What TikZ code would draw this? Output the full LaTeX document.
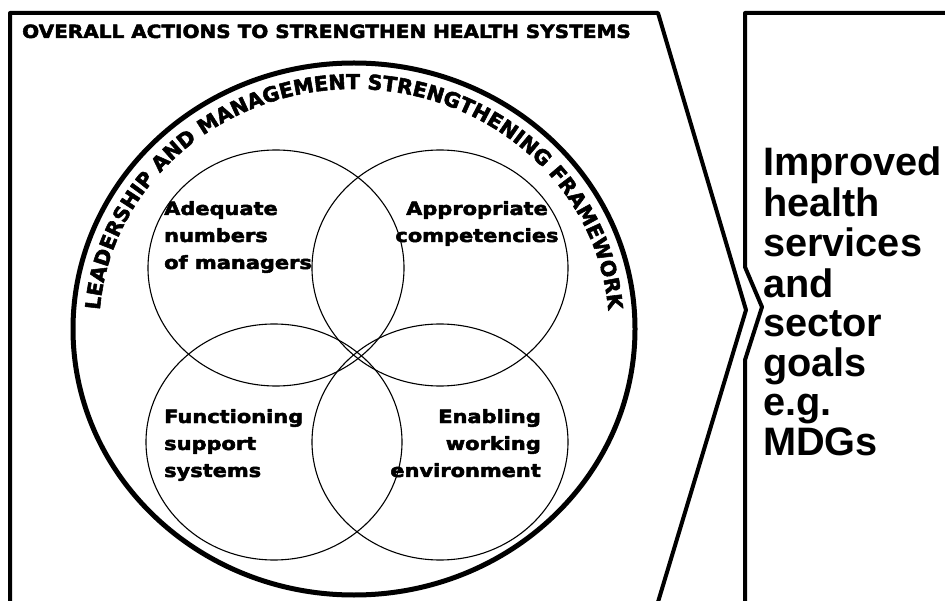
\documentclass[tikz,border=0pt]{standalone}
\usepackage{fontspec}
\usepackage{graphicx}
\usetikzlibrary{decorations.text}
\newfontfamily\heavyfont{DejaVu Sans}[BoldFeatures={FakeBold=2.6}]
\newfontfamily\goalfamily{Liberation Sans}
\newcommand{\titlefont}{\heavyfont\bfseries\fontsize{18.2}{22}\selectfont}
\newcommand{\vennfont}{\heavyfont\bfseries\fontsize{18.2}{27}\selectfont}
\newcommand{\arcfont}{\heavyfont\bfseries\fontsize{20.5}{24}\selectfont}
\newcommand{\goalfont}{\goalfamily\bfseries\fontsize{39.7}{39}\selectfont}
% several lines, widened a little
\newcommand{\vennlines}[2]{\scalebox{1.15}[1]{\begin{tabular}[t]{@{}#1@{}}#2\end{tabular}}}
\begin{document}
\begin{tikzpicture}[x=1pt,y=-1pt,line join=round,
  outline/.style={draw=black,line width=4pt},
  ring/.style={draw=black,line width=5pt},
  venn/.style={draw=black,line width=1.1pt},
  label/.style={inner sep=0pt,font=\vennfont}]
\useasboundingbox (0,0) rectangle (945,601);
\clip (0,0) rectangle (945,601);

% frame of the overall actions, ending in a point to the right
\draw[outline] (10,612) -- (10,13) -- (658,13) -- (746,310) -- (655,612);

% frame of the outcome, notched round the point
\draw[outline] (745,612) -- (745,360) -- (762,307) -- (745,267) -- (745,13) -- (950,13);

% framework ring
\draw[ring] (354,329) ellipse [x radius=281, y radius=266];

% four overlapping circles
\draw[venn] (276,268) ellipse [x radius=128, y radius=118];
\draw[venn] (440,268) ellipse [x radius=128, y radius=118];
\draw[venn] (274,442) ellipse [x radius=128, y radius=118];
\draw[venn] (440,442) ellipse [x radius=128, y radius=118];

% lettering round the inside of the ring
\path[decorate,decoration={text along path,
  text={|\arcfont|LEADERSHIP AND MANAGEMENT STRENGTHENING FRAMEWORK},
  text align={fit to path}}]
  (354,329) ++(184.5:255 and 240)
  arc [start angle=184.5, end angle=355.5, x radius=255, y radius=240];

\node[anchor=base west,inner sep=0pt] (title) at (22,38)
  {\scalebox{1.1}[1]{\titlefont OVERALL ACTIONS TO STRENGTHEN HEALTH SYSTEMS}};

\node[label,anchor=base west] (managers) at (164,215)
  {\vennlines{l}{Adequate\\numbers\\of managers}};
\node[label,anchor=base] (competencies) at (477,215)
  {\vennlines{c}{Appropriate\\competencies}};
\node[label,anchor=base west] (support) at (164,423)
  {\vennlines{l}{Functioning\\support\\systems}};
\node[label,anchor=base east] (environment) at (541,423)
  {\vennlines{r}{Enabling\\working\\environment}};

\node[anchor=base west,inner sep=0pt] (goals) at (763,176)
  {\goalfont\begin{tabular}[t]{@{}l@{}}Improved\\health\\services\\and\\sector\\goals\\e.g.\\MDGs\end{tabular}};
\end{tikzpicture}
\end{document}
